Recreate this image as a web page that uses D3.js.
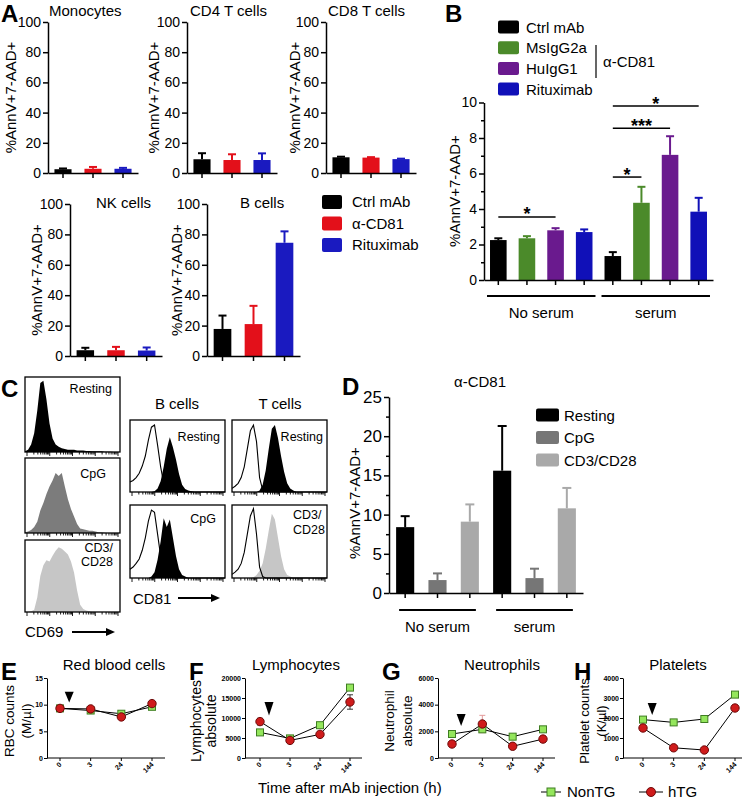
<!DOCTYPE html>
<html><head><meta charset="utf-8">
<script src="https://cdn.jsdelivr.net/npm/d3@7"></script>
<style>
html,body{margin:0;padding:0;background:#fff;}
svg{display:block;font-family:"Liberation Sans",Arial,Helvetica,sans-serif;background:#fff;}
</style></head><body>
<svg id="fig" width="751" height="801"></svg>
<script>
// ---------------- DATA ----------------
// Panel A
const aCellTypes = ["Monocytes","CD4 T cells","CD8 T cells","NK cells","B cells"];
const aTreatments = ["Ctrl mAb","α-CD81","Rituximab"];
const aMonocytes = [2.5,2.8,2.8],  aMonocytesErr = [0.5,1.2,0.6];
const aCD4 = [9.1,8.6,8.6],        aCD4Err = [4,3.8,4.4];
const aCD8 = [10.4,10.2,9.2],      aCD8Err = [0.4,0.3,0.3];
const aNK = [3.8,3.8,3.6],         aNKErr = [1.6,2.2,2];
const aB = [17.8,21,74.5],         aBErr = [8.8,12,7.5];
const aTicks = [0,20,40,60,80,100];
const aColors = ["#000000","#e3101a","#1a1ac0"];

// Panel B
const bGroups = ["No serum","serum"];
const bAntibodies = ["Ctrl mAb","MsIgG2a","HuIgG1","Rituximab"];
const bNoSerum = [2.25,2.35,2.8,2.7],   bNoSerumErr = [0.1,0.12,0.12,0.15];
const bSerum = [1.35,4.35,7.05,3.85],   bSerumErr = [0.22,0.9,1.05,0.78];
const bTicks = [0,2,4,6,8,10];
const bMinor = [1,3,5,7,9];
const bColors = ["#000000","#4b8a2a","#6a1a8e","#1010b8"];
const bSigLabels = ["*","*","***","*"];
const bSigFrom = [0,4,4,4];
const bSigTo = [2,5,6,7];
const bSigLevel = [3.55,5.8,8.55,9.8];

// Panel C (flow histograms, relative heights per bin)
const cd69Resting = [0.01,0.03,0.1,0.25,0.55,0.92,0.95,0.7,0.38,0.18,0.1,0.07,0.05,0.04,0.03,0.03,0.03,0.02,0.02,0.02,0.015,0.015,0.01,0.01,0.01,0.01,0.005,0.005,0.005,0,0,0];
const cd69CpG = [0.01,0.02,0.04,0.08,0.15,0.3,0.4,0.52,0.62,0.7,0.8,0.76,0.8,0.62,0.45,0.32,0.22,0.12,0.06,0.05,0.04,0.03,0.03,0.02,0.01,0.01,0.005,0,0,0,0,0];
const cd69CD3CD28 = [0,0,0.01,0.03,0.2,0.5,0.65,0.72,0.7,0.78,0.85,0.9,0.88,0.84,0.8,0.7,0.55,0.3,0.1,0.04,0.02,0.01,0,0,0,0,0,0,0,0,0,0];
const cd81BRestingIso = [0.14,0.16,0.2,0.26,0.36,0.5,0.72,0.9,0.93,0.65,0.35,0.12,0.04,0.02,0.01,0,0,0,0,0,0,0,0,0,0,0,0,0,0,0,0,0];
const cd81BResting = [0,0,0,0,0,0,0,0,0.01,0.05,0.15,0.35,0.6,0.76,0.62,0.45,0.25,0.1,0.04,0.02,0.01,0,0,0,0,0,0,0,0,0,0,0];
const cd81BCpGIso = [0.12,0.15,0.2,0.26,0.38,0.55,0.78,0.93,0.9,0.6,0.3,0.1,0.04,0.02,0.01,0,0,0,0,0,0,0,0,0,0,0,0,0,0,0,0,0];
const cd81BCpG = [0,0,0,0,0,0,0,0.02,0.08,0.25,0.5,0.82,0.7,0.8,0.55,0.3,0.12,0.04,0.02,0,0,0,0,0,0,0,0,0,0,0,0,0];
const cd81TRestingIso = [0.05,0.08,0.12,0.2,0.35,0.6,0.85,0.93,0.7,0.2,0.03,0,0,0,0,0,0,0,0,0,0,0,0,0,0,0,0,0,0,0,0,0];
const cd81TResting = [0,0,0,0,0,0,0,0,0,0.02,0.1,0.3,0.6,0.88,0.93,0.75,0.5,0.28,0.12,0.05,0.02,0,0,0,0,0,0,0,0,0,0,0];
const cd81TCD3Iso = [0.05,0.08,0.12,0.2,0.35,0.6,0.85,0.95,0.6,0.15,0.02,0,0,0,0,0,0,0,0,0,0,0,0,0,0,0,0,0,0,0,0,0];
const cd81TCD3CD28 = [0,0,0,0,0,0,0,0.01,0.04,0.1,0.2,0.4,0.65,0.88,0.8,0.55,0.3,0.12,0.04,0.02,0,0,0,0,0,0,0,0,0,0,0,0];

// Panel D
const dGroups = ["No serum","serum"];
const dConditions = ["Resting","CpG","CD3/CD28"];
const dNoSerum = [8.4,1.65,9.1],  dNoSerumErr = [1.4,0.85,2.2];
const dSerum = [15.6,1.9,10.8],   dSerumErr = [5.7,1.2,2.6];
const dTicks = [0,5,10,15,20,25];
const dMinor = [2.5,7.5,12.5,17.5,22.5];
const dColors = ["#000000","#767676","#a9a9a9"];

// Panels E-H
const timePoints = ["0","3","24","144"];
const rbcNonTG = [9.3,8.9,8.3,9.6],      rbcHTG = [9.3,9.2,7.7,10.2],   rbcHTGErr = [0.2,0.2,0.25,0.25];
const lymNonTG = [6400,4900,8200,17600], lymHTG = [9100,4400,5900,14000], lymHTGErr = [800,300,600,1800];
const neuNonTG = [1800,2150,1600,2150],  neuHTG = [1050,2550,880,1420],  neuHTGErr = [100,650,200,250];
const pltNonTG = [1920,1780,1950,3170],  pltHTG = [1500,510,400,2500],   pltHTGErr = [80,60,50,150];
const rbcTicks = [0,5,10,15];
const lymTicks = [0,5000,10000,15000,20000];
const neuTicks = [0,2000,4000,6000];
const pltTicks = [0,1000,2000,3000,4000];
const seriesNames = ["NonTG","hTG"];

// ---------------- DRAWING ----------------
const FONT = '"Liberation Sans", Arial, Helvetica, sans-serif';
const svg = d3.select("#fig");

function addText(x, y, s, o = {}) {
  const t = svg.append("text").attr("x", x).attr("y", y).text(s)
    .attr("font-family", FONT)
    .attr("font-size", o.size || 15)
    .attr("text-anchor", o.anchor || "start")
    .attr("font-weight", o.weight || "normal")
    .attr("fill", o.fill || "#000");
  if (o.rotate) t.attr("transform", `rotate(${o.rotate},${x},${y})`);
  return t;
}
function letter(x, y, s) { addText(x, y, s, {size: 24, weight: "bold"}); }

function styleAxis(ax, fs, sw, bold) {
  ax.attr("font-family", FONT).attr("font-size", fs);
  ax.select(".domain").attr("stroke", "#000").attr("stroke-width", sw);
  ax.selectAll(".tick line").attr("stroke", "#000").attr("stroke-width", sw);
  ax.selectAll(".tick text").attr("fill", "#000").attr("font-weight", bold ? "bold" : "normal");
}

function barChart(c) {
  const g = svg.append("g");
  const n = c.means.length;
  const y = d3.scaleLinear().domain([0, c.max]).range([c.yBot, c.yTop]);
  const x = d3.scaleBand().domain(d3.range(n)).range([c.x0, c.x1]).paddingInner(c.pad).paddingOuter(c.pad / 2);
  const cx = i => x(i) + x.bandwidth() / 2;
  g.selectAll(".bar").data(c.means).join("rect").attr("class", "bar")
    .attr("x", (d, i) => x(i)).attr("y", d => y(d))
    .attr("width", x.bandwidth()).attr("height", d => c.yBot - y(d))
    .attr("fill", (d, i) => c.colors[i]);
  c.means.forEach((d, i) => {
    const top = y(d + c.errs[i]);
    g.append("line").attr("x1", cx(i)).attr("x2", cx(i)).attr("y1", y(d)).attr("y2", top)
      .attr("stroke", c.colors[i]).attr("stroke-width", 2);
    g.append("line").attr("x1", cx(i) - c.cap / 2).attr("x2", cx(i) + c.cap / 2).attr("y1", top).attr("y2", top)
      .attr("stroke", c.colors[i]).attr("stroke-width", 2);
  });
  const ya = g.append("g").attr("transform", `translate(${c.x0},0)`)
    .call(d3.axisLeft(y).tickValues(c.ticks).tickSize(5).tickSizeOuter(0).tickPadding(2));
  styleAxis(ya, c.tickFs, 1.5);
  if (c.minor) {
    const ym = g.append("g").attr("transform", `translate(${c.x0},0)`)
      .call(d3.axisLeft(y).tickValues(c.minor).tickSize(3).tickFormat(""));
    ym.select(".domain").remove();
    ym.selectAll("line").attr("stroke", "#000").attr("stroke-width", 1.5);
  }
  const xa = g.append("g").attr("transform", `translate(0,${c.yBot})`)
    .call(d3.axisBottom(x).tickSize(5).tickSizeOuter(0).tickFormat(""));
  styleAxis(xa, 10, 1.5);
  return {x, y, cx};
}

// ===== Panel A =====
letter(1, 22, "A");
const aMeans = [aMonocytes, aCD4, aCD8, aNK, aB];
const aErrs = [aMonocytesErr, aCD4Err, aCD8Err, aNKErr, aBErr];
const aLayout = [
  {x0: 48,  x1: 138, yTop: 22,  yBot: 173, labX: 16,  titleX: 49,  titleY: 16},
  {x0: 187, x1: 277, yTop: 22,  yBot: 173, labX: 159, titleX: 190, titleY: 16},
  {x0: 326, x1: 416, yTop: 22,  yBot: 173, labX: 300, titleX: 328, titleY: 16},
  {x0: 70,  x1: 162, yTop: 204, yBot: 356, labX: 42,  titleX: 96,  titleY: 208},
  {x0: 207, x1: 300, yTop: 204, yBot: 356, labX: 182, titleX: 240, titleY: 208}
];
aCellTypes.forEach((name, k) => {
  const L = aLayout[k];
  barChart({x0: L.x0, x1: L.x1, yTop: L.yTop, yBot: L.yBot, max: 100, ticks: aTicks,
    means: aMeans[k], errs: aErrs[k], colors: aColors, pad: 0.43, tickFs: 14, cap: 8});
  addText(L.titleX, L.titleY, name, {size: 15});
  addText(L.labX, (L.yTop + L.yBot) / 2, "%AnnV+7-AAD+", {size: 15, anchor: "middle", rotate: -90});
});
aTreatments.forEach((t, i) => {
  const yc = 202 + i * 21.5;
  svg.append("rect").attr("x", 322).attr("y", yc - 7).attr("width", 20).attr("height", 14).attr("rx", 2)
    .attr("fill", aColors[i]);
  addText(352, yc + 5, t, {size: 15});
});

// ===== Panel B =====
letter(445, 22, "B");
const bMeans = bNoSerum.concat(bSerum);
const bErrs = bNoSerumErr.concat(bSerumErr);
const bCols = bColors.concat(bColors);
const B = barChart({x0: 484, x1: 713, yTop: 102.5, yBot: 280, max: 10, ticks: bTicks, minor: bMinor,
  means: bMeans, errs: bErrs, colors: bCols, pad: 0.42, tickFs: 14, cap: 8});
addText(460, 191, "%AnnV+7-AAD+", {size: 15, anchor: "middle", rotate: -90});
bGroups.forEach((gname, gi) => {
  const i0 = gi * 4, i1 = gi * 4 + 3;
  const xa = B.x(i0) - 3, xb = B.x(i1) + B.x.bandwidth() + 3;
  svg.append("line").attr("x1", xa).attr("x2", xb).attr("y1", 296).attr("y2", 296)
    .attr("stroke", "#000").attr("stroke-width", 1.8);
  addText((xa + xb) / 2, 318, gname, {size: 15, anchor: "middle"});
});
bSigLabels.forEach((s, k) => {
  const yy = B.y(bSigLevel[k]);
  const xa = B.cx(bSigFrom[k]), xb = B.cx(bSigTo[k]);
  svg.append("line").attr("x1", xa).attr("x2", xb).attr("y1", yy).attr("y2", yy)
    .attr("stroke", "#000").attr("stroke-width", 1.5);
  addText((xa + xb) / 2, yy + 3.5, s, {size: 18, anchor: "middle", weight: "bold"});
});
bAntibodies.forEach((t, i) => {
  const yc = 27 + i * 20.7;
  svg.append("rect").attr("x", 498).attr("y", yc - 6.5).attr("width", 21).attr("height", 13).attr("rx", 2)
    .attr("fill", bColors[i]);
  addText(526, yc + 5.5, t, {size: 15});
});
svg.append("line").attr("x1", 596).attr("x2", 596).attr("y1", 45).attr("y2", 78).attr("stroke", "#000").attr("stroke-width", 1.2);
addText(603, 67, "α-CD81", {size: 15});

// ===== Panel C =====
letter(1, 397, "C");
function flowBox(bx, by, bw, bh, layers) {
  const g = svg.append("g");
  const x = d3.scaleLinear().domain([0, 31]).range([bx, bx + bw]);
  const y = d3.scaleLinear().domain([0, 1]).range([by + bh, by]);
  layers.forEach(l => {
    if (l.fill) {
      g.append("path").attr("d", d3.area().x((d, i) => x(i)).y0(by + bh).y1(d => y(d))(l.values))
        .attr("fill", l.fill);
    } else {
      g.append("path").attr("d", d3.line().x((d, i) => x(i)).y(d => y(d))(l.values))
        .attr("fill", "none").attr("stroke", "#000").attr("stroke-width", 1.1);
    }
  });
  g.append("rect").attr("x", bx).attr("y", by).attr("width", bw).attr("height", bh)
    .attr("fill", "none").attr("stroke", "#000").attr("stroke-width", 1.3);
  const lx = d3.scaleLog().domain([1, 1e4]).range([bx + 2, bx + bw - 2]);
  lx.ticks().forEach(t => {
    const major = Math.abs(Math.log10(t) - Math.round(Math.log10(t))) < 1e-9;
    g.append("line").attr("x1", lx(t)).attr("x2", lx(t)).attr("y1", by + bh)
      .attr("y2", by + bh + (major ? 4 : 2.5)).attr("stroke", "#000").attr("stroke-width", 0.9);
  });
}
flowBox(25, 377, 95, 75, [{values: cd69Resting, fill: "#000"}]);
flowBox(25, 458, 95, 75, [{values: cd69CpG, fill: "#7c7c7c"}]);
flowBox(25, 540, 95, 72, [{values: cd69CD3CD28, fill: "#c6c6c6"}]);
addText(112, 393, "Resting", {size: 12.5, anchor: "end"});
addText(106, 478, "CpG", {size: 12.5, anchor: "end"});
addText(113, 552, "CD3/", {size: 12.5, anchor: "end"});
addText(113, 566, "CD28", {size: 12.5, anchor: "end"});

flowBox(130, 420, 95, 72, [{values: cd81BResting, fill: "#000"}, {values: cd81BRestingIso}]);
flowBox(130, 505, 95, 73, [{values: cd81BCpG, fill: "#000"}, {values: cd81BCpGIso}]);
flowBox(232, 420, 95, 72, [{values: cd81TResting, fill: "#000"}, {values: cd81TRestingIso}]);
flowBox(232, 505, 95, 73, [{values: cd81TCD3CD28, fill: "#c6c6c6"}, {values: cd81TCD3Iso}]);
addText(220, 441, "Resting", {size: 12.5, anchor: "end"});
addText(216, 523, "CpG", {size: 12.5, anchor: "end"});
addText(323, 441, "Resting", {size: 12.5, anchor: "end"});
addText(293, 519, "CD3/", {size: 12.5});
addText(293, 534, "CD28", {size: 12.5});
addText(177, 409, "B cells", {size: 15, anchor: "middle"});
addText(280, 409, "T cells", {size: 15, anchor: "middle"});

function arrow(x1, x2, y) {
  svg.append("line").attr("x1", x1).attr("x2", x2 - 7).attr("y1", y).attr("y2", y).attr("stroke", "#000").attr("stroke-width", 2);
  svg.append("path").attr("d", `M${x2 - 9},${y - 4}L${x2},${y}L${x2 - 9},${y + 4}Z`).attr("fill", "#000");
}
addText(133, 604, "CD81", {size: 15});
arrow(178, 220, 598);
addText(25, 637, "CD69", {size: 15});
arrow(72, 115, 632);

// ===== Panel D =====
letter(342, 395, "D");
const dMeans = dNoSerum.concat(dSerum);
const dErrs = dNoSerumErr.concat(dSerumErr);
const dCols = dColors.concat(dColors);
const D = barChart({x0: 389, x1: 583, yTop: 397, yBot: 593, max: 25, ticks: dTicks, minor: dMinor,
  means: dMeans, errs: dErrs, colors: dCols, pad: 0.44, tickFs: 17, cap: 9});
addText(360, 503, "%AnnV+7-AAD+", {size: 15, anchor: "middle", rotate: -90});
addText(480, 387, "α-CD81", {size: 15, anchor: "middle"});
dGroups.forEach((gname, gi) => {
  const i0 = gi * 3, i1 = gi * 3 + 2;
  const xa = D.x(i0) + 3, xb = D.x(i1) + D.x.bandwidth() - 3;
  svg.append("line").attr("x1", xa).attr("x2", xb).attr("y1", 610).attr("y2", 610)
    .attr("stroke", "#000").attr("stroke-width", 1.8);
  addText((xa + xb) / 2, 632, gname, {size: 15, anchor: "middle"});
});
dConditions.forEach((t, i) => {
  const yc = 415 + i * 22.5;
  svg.append("rect").attr("x", 536).attr("y", yc - 6.5).attr("width", 23).attr("height", 13).attr("rx", 2)
    .attr("fill", dColors[i]);
  addText(564, yc + 5.5, t, {size: 15});
});

// ===== Panels E-H =====
const linePanels = [
  {letter: "E", letterX: 1, title: "Red blood cells", titleX: 114, ylab: ["RBC counts", "(M/µl)"], labX: [14, 31], labSize: 13.5,
   non: rbcNonTG, htg: rbcHTG, err: rbcHTGErr, ticks: rbcTicks, max: 15, x0: 47, x1: 165, p0: 60, p1: 152,
   arrowTop: 12.4, arrowTip: 10.4, errColor: "#333"},
  {letter: "F", letterX: 189, title: "Lymphocytes", titleX: 296, ylab: ["Lymphocytes", "absolute"], labX: [201, 216], labSize: 14,
   non: lymNonTG, htg: lymHTG, err: lymHTGErr, ticks: lymTicks, max: 20000, x0: 245, x1: 362, p0: 260, p1: 350,
   arrowTop: 14000, arrowTip: 10600, errColor: "#333"},
  {letter: "G", letterX: 382, title: "Neutrophils", titleX: 502, ylab: ["Neutrophil", "absolute"], labX: [394, 412], labSize: 13.5,
   non: neuNonTG, htg: neuHTG, err: neuHTGErr, ticks: neuTicks, max: 6000, x0: 438, x1: 555, p0: 452, p1: 543,
   arrowTop: 3300, arrowTip: 2400, errColor: "#e39a9a"},
  {letter: "H", letterX: 574, title: "Platelets", titleX: 678, ylab: ["Platelet counts", "(K/µl)"], labX: [589, 606], labSize: 13,
   non: pltNonTG, htg: pltHTG, err: pltHTGErr, ticks: pltTicks, max: 4000, x0: 623, x1: 742, p0: 643, p1: 735,
   arrowTop: 2750, arrowTip: 2150, errColor: "#e39a9a"}
];
const yTopL = 678, yBotL = 758;
const nonFill = "#94e65c", nonStroke = "#3f7d22", htgFill = "#cf1b1b", htgStroke = "#6e0a0a";
linePanels.forEach(p => {
  letter(p.letterX, 680, p.letter);
  addText(p.titleX, 670, p.title, {size: 15, anchor: "middle"});
  addText(p.labX[0], 721, p.ylab[0], {size: p.labSize, anchor: "middle", rotate: -90});
  addText(p.labX[1], 721, p.ylab[1], {size: p.labSize, anchor: "middle", rotate: -90});
  const g = svg.append("g");
  const y = d3.scaleLinear().domain([0, p.max]).range([yBotL, yTopL]);
  const x = d3.scalePoint().domain(timePoints).range([p.p0, p.p1]);
  const ya = g.append("g").attr("transform", `translate(${p.x0},0)`)
    .call(d3.axisLeft(y).tickValues(p.ticks).tickSize(3).tickSizeOuter(0).tickPadding(1).tickFormat(d3.format("d")));
  styleAxis(ya, 7, 1, true);
  g.append("line").attr("x1", p.x0).attr("x2", p.x1).attr("y1", yBotL).attr("y2", yBotL).attr("stroke", "#000").attr("stroke-width", 1);
  timePoints.forEach(t => {
    g.append("line").attr("x1", x(t)).attr("x2", x(t)).attr("y1", yBotL).attr("y2", yBotL + 3).attr("stroke", "#000").attr("stroke-width", 1);
    const tx = x(t) + 2, ty = yBotL + 7;
    g.append("text").attr("x", tx).attr("y", ty).text(t).attr("font-family", FONT).attr("font-size", 7)
      .attr("font-weight", "bold").attr("text-anchor", "end").attr("transform", `rotate(-45,${tx},${ty})`);
  });
  // injection marker
  const ax = x(timePoints[0]) + 0.3 * (x(timePoints[1]) - x(timePoints[0]));
  g.append("path").attr("d", `M${ax - 4.5},${y(p.arrowTop)}L${ax + 4.5},${y(p.arrowTop)}L${ax},${y(p.arrowTip)}Z`).attr("fill", "#000");
  const line = d3.line().x((d, i) => x(timePoints[i])).y(d => y(d));
  g.append("path").attr("d", line(p.non)).attr("fill", "none").attr("stroke", "#000").attr("stroke-width", 1);
  g.append("path").attr("d", line(p.htg)).attr("fill", "none").attr("stroke", "#000").attr("stroke-width", 1);
  p.htg.forEach((d, i) => {
    const xx = x(timePoints[i]);
    g.append("line").attr("x1", xx).attr("x2", xx).attr("y1", y(d - p.err[i])).attr("y2", y(d + p.err[i])).attr("stroke", p.errColor).attr("stroke-width", 1);
    [d - p.err[i], d + p.err[i]].forEach(v => g.append("line").attr("x1", xx - 3).attr("x2", xx + 3).attr("y1", y(v)).attr("y2", y(v)).attr("stroke", p.errColor).attr("stroke-width", 1));
  });
  p.non.forEach((d, i) => {
    g.append("rect").attr("x", x(timePoints[i]) - 3.5).attr("y", y(d) - 3.5).attr("width", 7).attr("height", 7)
      .attr("fill", nonFill).attr("stroke", nonStroke).attr("stroke-width", 1);
  });
  p.htg.forEach((d, i) => {
    g.append("circle").attr("cx", x(timePoints[i])).attr("cy", y(d)).attr("r", 4.2)
      .attr("fill", htgFill).attr("stroke", htgStroke).attr("stroke-width", 1);
  });
});
addText(258, 793, "Time after mAb injection (h)", {size: 15});
// legend
svg.append("line").attr("x1", 541).attr("x2", 561).attr("y1", 792).attr("y2", 792).attr("stroke", "#000").attr("stroke-width", 1);
svg.append("rect").attr("x", 547).attr("y", 788).attr("width", 8).attr("height", 8).attr("fill", nonFill).attr("stroke", nonStroke);
addText(567, 797, seriesNames[0], {size: 15});
svg.append("line").attr("x1", 639).attr("x2", 663).attr("y1", 792).attr("y2", 792).attr("stroke", "#000").attr("stroke-width", 1);
svg.append("circle").attr("cx", 651).attr("cy", 792).attr("r", 4.5).attr("fill", htgFill).attr("stroke", htgStroke);
addText(668, 797, seriesNames[1], {size: 15});
</script></body></html>
